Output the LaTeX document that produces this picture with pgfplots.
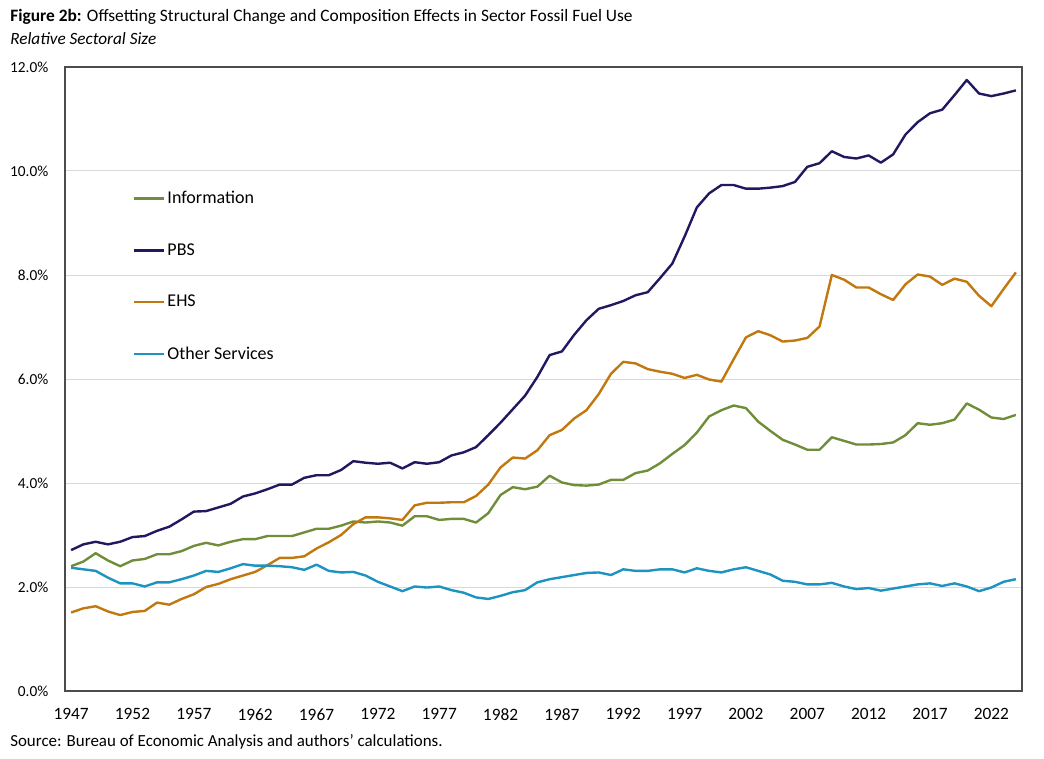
\documentclass[border=0pt]{standalone}
\usepackage{fontspec}
\setmainfont{Carlito}
\usepackage{pgfplots}
\pgfplotsset{compat=1.18}
\usepackage{pgfplotstable}

\definecolor{infocol}{RGB}{112,141,58}
\definecolor{pbscol}{RGB}{32,25,96}
\definecolor{ehscol}{RGB}{192,120,15}
\definecolor{othcol}{RGB}{28,147,192}

% Relative sectoral size (%), by year
\pgfplotstableread{
year info pbs ehs other
1947 2.40 2.71 1.51 2.37
1948 2.49 2.82 1.59 2.34
1949 2.65 2.87 1.63 2.31
1950 2.51 2.82 1.53 2.18
1951 2.40 2.87 1.46 2.07
1952 2.51 2.96 1.52 2.07
1953 2.54 2.98 1.54 2.01
1954 2.63 3.08 1.70 2.09
1955 2.63 3.16 1.66 2.09
1956 2.69 3.30 1.77 2.15
1957 2.79 3.45 1.86 2.22
1958 2.85 3.46 2.00 2.31
1959 2.80 3.53 2.06 2.29
1960 2.87 3.60 2.15 2.36
1961 2.92 3.74 2.22 2.44
1962 2.92 3.80 2.29 2.41
1963 2.98 3.88 2.42 2.41
1964 2.98 3.97 2.56 2.40
1965 2.98 3.97 2.56 2.38
1966 3.05 4.10 2.59 2.33
1967 3.12 4.15 2.74 2.43
1968 3.12 4.15 2.86 2.31
1969 3.18 4.25 3.00 2.28
1970 3.26 4.42 3.21 2.29
1971 3.24 4.39 3.34 2.22
1972 3.26 4.37 3.34 2.10
1973 3.24 4.39 3.32 2.01
1974 3.18 4.28 3.29 1.92
1975 3.36 4.40 3.57 2.01
1976 3.36 4.37 3.62 1.99
1977 3.29 4.40 3.62 2.01
1978 3.31 4.53 3.63 1.94
1979 3.31 4.59 3.63 1.89
1980 3.24 4.69 3.75 1.80
1981 3.42 4.92 3.97 1.77
1982 3.77 5.16 4.30 1.83
1983 3.92 5.42 4.49 1.90
1984 3.88 5.68 4.47 1.94
1985 3.93 6.04 4.63 2.09
1986 4.14 6.46 4.92 2.15
1987 4.01 6.53 5.02 2.19
1988 3.96 6.85 5.24 2.23
1989 3.95 7.13 5.40 2.27
1990 3.97 7.35 5.71 2.28
1991 4.06 7.42 6.10 2.23
1992 4.06 7.50 6.33 2.34
1993 4.19 7.61 6.30 2.31
1994 4.24 7.67 6.19 2.31
1995 4.38 7.94 6.14 2.34
1996 4.56 8.22 6.10 2.34
1997 4.73 8.74 6.02 2.28
1998 4.97 9.30 6.08 2.36
1999 5.28 9.57 5.99 2.31
2000 5.40 9.73 5.95 2.28
2001 5.49 9.73 6.38 2.34
2002 5.44 9.66 6.80 2.38
2003 5.18 9.66 6.92 2.31
2004 5.00 9.68 6.84 2.24
2005 4.83 9.71 6.72 2.12
2006 4.74 9.79 6.74 2.10
2007 4.64 10.08 6.79 2.05
2008 4.64 10.15 7.01 2.05
2009 4.88 10.38 8.00 2.08
2010 4.81 10.27 7.91 2.01
2011 4.74 10.24 7.76 1.96
2012 4.74 10.30 7.76 1.98
2013 4.75 10.16 7.63 1.93
2014 4.78 10.32 7.52 1.97
2015 4.92 10.70 7.82 2.01
2016 5.15 10.94 8.01 2.05
2017 5.12 11.11 7.97 2.07
2018 5.15 11.18 7.81 2.02
2019 5.22 11.46 7.93 2.07
2020 5.53 11.75 7.87 2.01
2021 5.41 11.49 7.60 1.92
2022 5.26 11.44 7.40 1.99
2023 5.23 11.49 7.73 2.10
2024 5.31 11.55 8.05 2.15
}\sectors

\begin{document}
\begin{tikzpicture}
\useasboundingbox (0,0) rectangle (783pt,568.5pt);
\node[anchor=west, inner sep=0pt, font=\fontsize{13.05}{15}\selectfont] at (7.5pt,555.5pt)
  {\textbf{Figure 2b:} Offsetting Structural Change and Composition Effects in Sector Fossil Fuel Use};
\node[anchor=west, inner sep=0pt, font=\fontsize{12.9}{15}\selectfont\itshape] at (7.5pt,539.5pt)
  {Relative Sectoral Size};
\node[anchor=west, inner sep=0pt, font=\fontsize{12.7}{15}\selectfont] at (7.5pt,12pt)
  {Source: Bureau of Economic Analysis and authors' calculations.};
\begin{axis}[
  at={(48.75pt,50.25pt)}, anchor=south west,
  scale only axis, width=717.75pt, height=468pt,
  xmin=1946.5, xmax=2024.5, ymin=0, ymax=12,
  xtick={1947,1952,1957,1962,1967,1972,1977,1982,1987,1992,1997,2002,2007,2012,2017,2022},
  xticklabels={1947,1952,1957,1962,1967,1972,1977,1982,1987,1992,1997,2002,2007,2012,2017,2022},
  ytick={0,2,4,6,8,10,12},
  yticklabels={0.0\%,2.0\%,4.0\%,6.0\%,8.0\%,10.0\%,12.0\%},
  major tick length=0pt,
  ymajorgrids,
  grid style={draw=black!15, line width=0.75pt},
  axis line style={draw=black!70, line width=1.1pt},
  xticklabel style={font=\fontsize{13}{15}\selectfont, yshift=-9.5pt},
  yticklabel style={font=\fontsize{11.5}{13}\selectfont, xshift=-9pt},
  legend style={draw=none, fill=none, at={(0.066,0.810)}, anchor=north west,
    row sep=24.4pt, font=\fontsize{13.5}{15}\selectfont},
  legend cell align=left,
  legend image code/.code={\draw[#1] (0pt,0pt) -- (22.5pt,0pt);},
  every axis plot/.append style={line width=1.8pt, line join=round},
]
\addplot[infocol] table[x=year, y=info] {\sectors};
\addlegendentry{Information}
\addplot[pbscol] table[x=year, y=pbs] {\sectors};
\addlegendentry{PBS}
\addplot[ehscol] table[x=year, y=ehs] {\sectors};
\addlegendentry{EHS}
\addplot[othcol] table[x=year, y=other] {\sectors};
\addlegendentry{Other Services}
\end{axis}
\end{tikzpicture}
\end{document}
